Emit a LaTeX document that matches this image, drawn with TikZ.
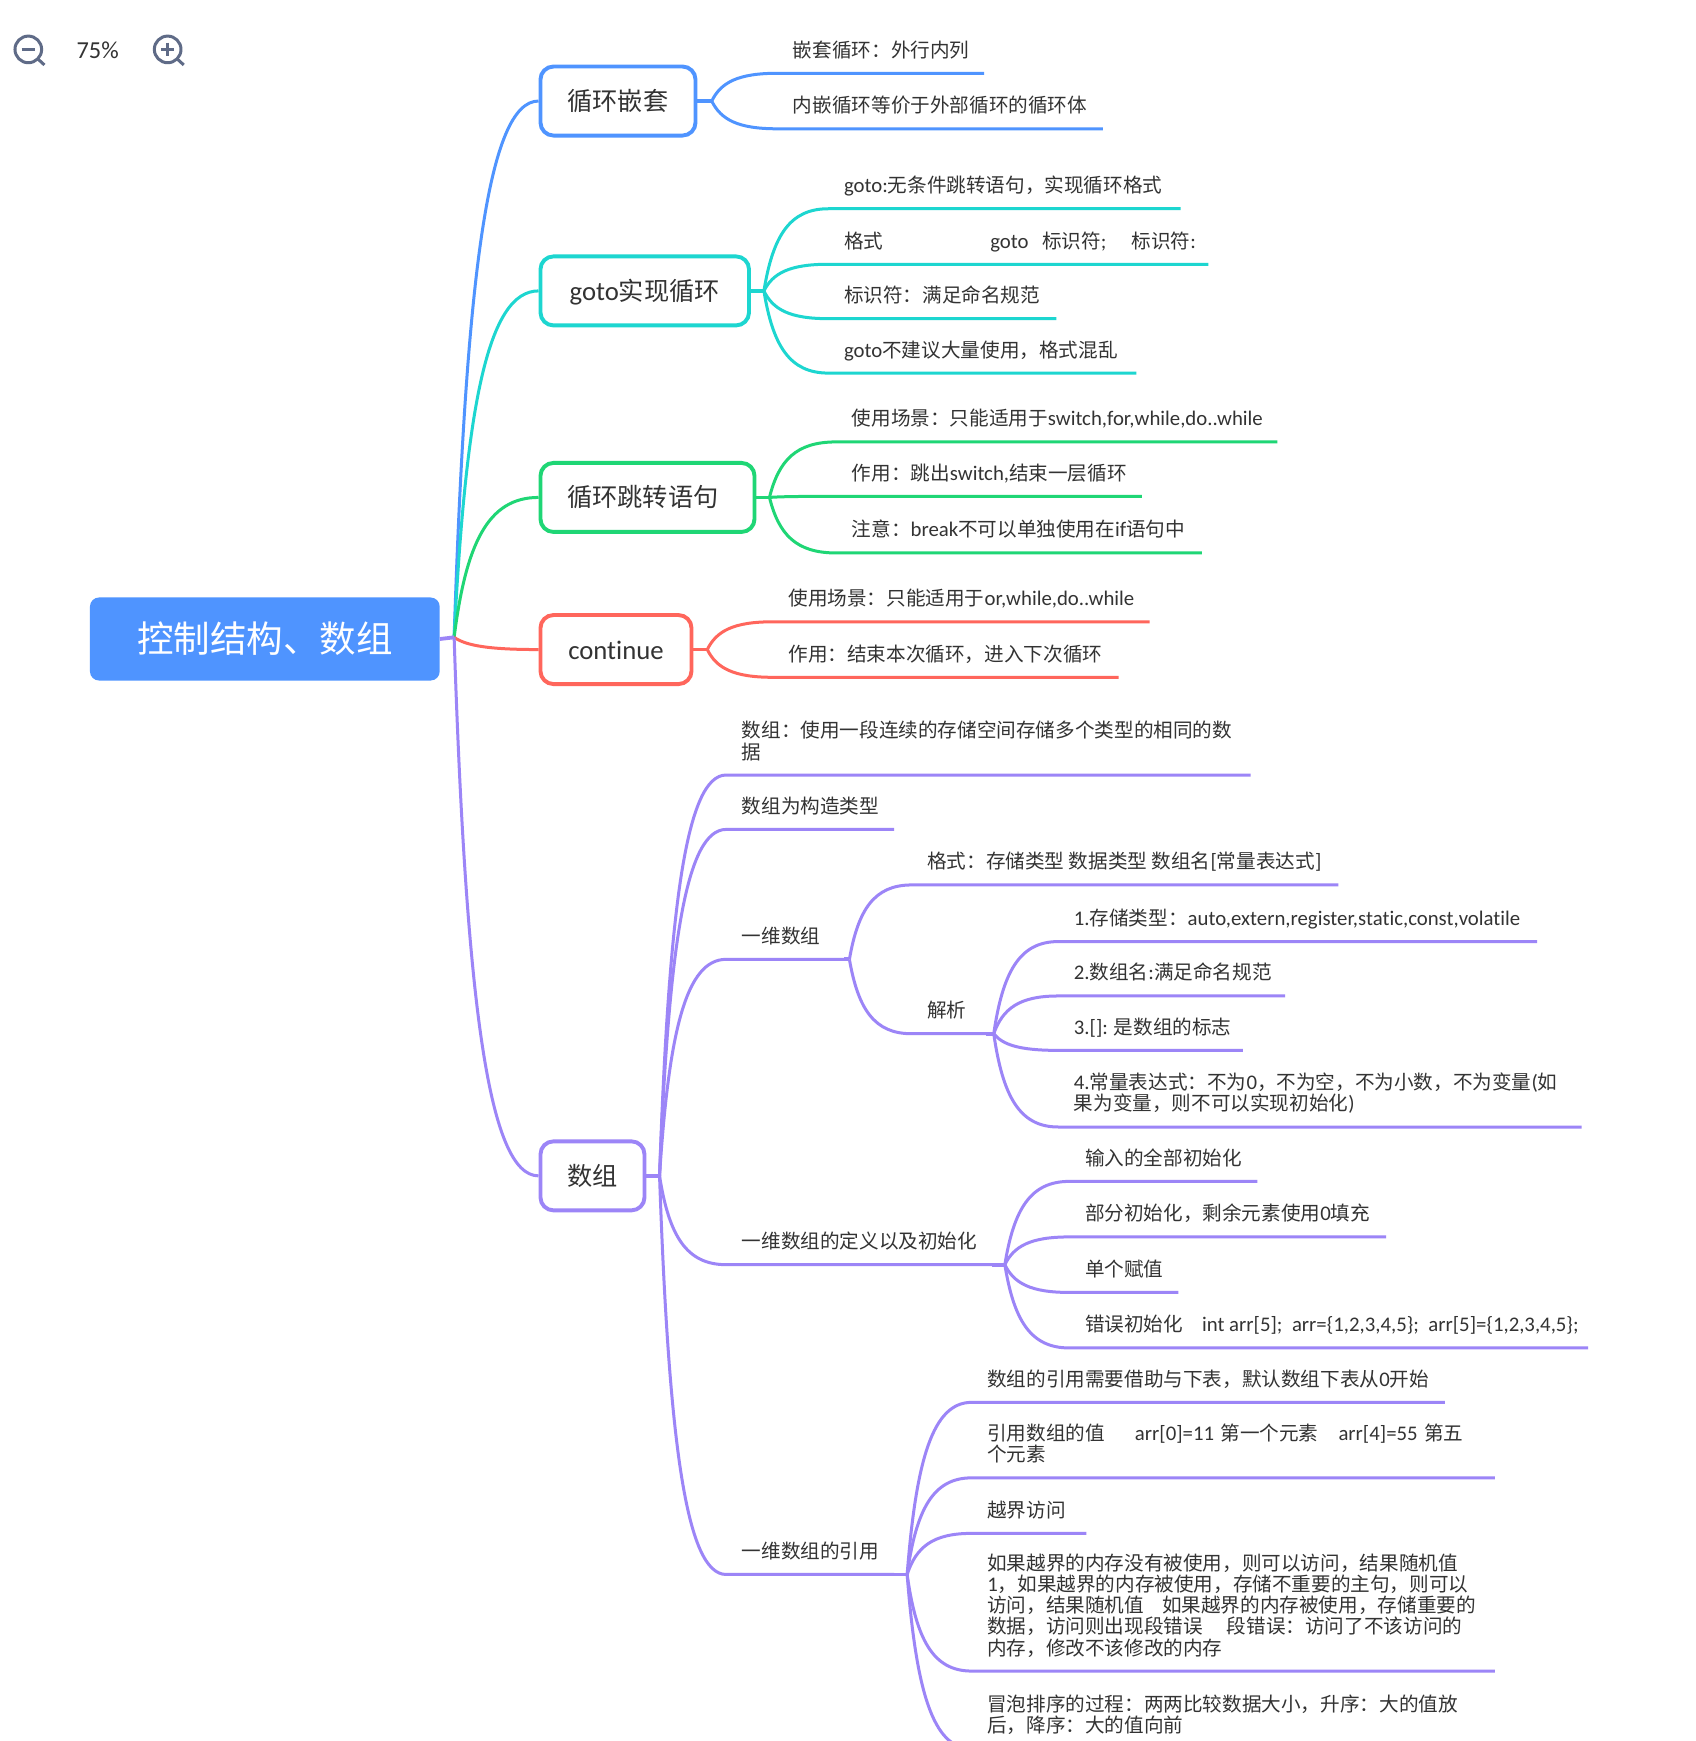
\documentclass[tikz,border=0pt]{standalone}
\usepackage{fontspec}
\setmainfont{Noto Sans CJK SC}
\newfontfamily\latinf[Scale=1.06,Ligatures=NoCommon]{Carlito}
\newcommand{\lat}[1]{{\latinf #1}}
\usetikzlibrary{calc}
\definecolor{cblue}{HTML}{4F94FF}
\definecolor{cteal}{HTML}{1DD6D0}
\definecolor{cgreen}{HTML}{1FD675}
\definecolor{cred}{HTML}{FF665C}
\definecolor{cpurple}{HTML}{9C85F7}
\definecolor{ctext}{HTML}{333333}
\definecolor{cicon}{HTML}{5F6B87}
\colorlet{cur}{cblue}
\tikzset{
  rootbox/.style={rectangle,rounded corners=9pt,fill=cblue,text=white,inner sep=0pt,minimum width=349.6pt,minimum height=83pt,text height=28pt,text depth=1pt,font=\fontsize{36.5}{40}\selectfont},
  topicbox/.style={rectangle,rounded corners=13pt,draw=cur,line width=3.9pt,fill=white,text=ctext,inner sep=0pt,minimum height=69pt,text height=22pt,text depth=3pt,font=\fontsize{25.2}{28}\selectfont,anchor=west},
  leafnode/.style={inner sep=0pt,anchor=south west,text=ctext,font=\fontsize{19.6}{21.1}\selectfont},
  conn/.style={draw=cur,line width=3pt},
  stubline/.style={draw=cur,line width=3.8pt},
  iconline/.style={draw=cicon,line width=3pt},
  icontext/.style={inner sep=0pt,text=ctext,font=\fontsize{23}{25}\selectfont}
}
\newcommand{\curveto}[3]{%
  \draw[conn] let \p1=(#1),\p2=(#2) in (\p1) .. controls (\x1+0.14*\x2-0.14*\x1,\y2+0.33*\y1-0.33*\y2) and (\x1+0.4*\x2-0.4*\x1,\y2) .. (\p2)#3;}
\newcommand{\leaf}[7]{%
  \pgfmathsetlengthmacro{\lw}{(#4-#3)*1.11}%
  \pgfmathsetlengthmacro{\lo}{(#6-#3)*1.11}%
  \node[leafnode] (#1) at (#3,#5) {\makebox[\lw][l]{\hspace*{\lo}\vbox{\lineskiplimit=-60pt\baselineskip=21.1pt\let\\\cr\halign{##\hfil\cr #7\crcr}}}\rule[-15.8pt]{0pt}{0pt}};
  \curveto{#2}{#1.south west}{ -- (#1.south east)}}
\begin{document}
\begin{tikzpicture}[x=1.11pt,y=-1.11pt]
\useasboundingbox (0,0) rectangle (1527,1568);
\clip (0,0) rectangle (1527,1568);
\fill[white] (0,0) rectangle (1527,1568);
% toolbar
\draw[iconline] (25.5,44.5) circle (12);
\draw[iconline] (19.5,44.5) -- (31.5,44.5);
\draw[iconline] (34,53) -- (40,58.5);
\node[icontext] (zoomtext) at (88,45) {\lat{75\%}};
\draw[iconline] (151,44.5) circle (12);
\draw[iconline] (145,44.5) -- (157,44.5);
\draw[iconline] (151,38.5) -- (151,50.5);
\draw[iconline] (159.5,53) -- (165.5,58.5);
% root
\node[rootbox] (root) at (238.5,575.5) {控制结构、数组};
\coordinate (rf) at (409,574);
% topic nodes
\colorlet{cur}{cblue}
\node[topicbox,minimum width=155pt] (t1) at (485,91) {循环嵌套};
\curveto{rf}{t1.west}{}
\coordinate (f1) at (641,91);
\draw[stubline] (t1.east) -- (f1);
\leaf{a1}{f1}{700}{886}{66}{714}{嵌套循环：外行内列}
\leaf{a2}{f1}{700}{993}{116}{714}{内嵌循环等价于外部循环的循环体}
\colorlet{cur}{cteal}
\node[topicbox,minimum width=208.5pt] (t2) at (485,262) {\lat{goto}实现循环};
\curveto{rf}{t2.west}{}
\coordinate (f2) at (688,262);
\draw[stubline] (t2.east) -- (f2);
\leaf{b1}{f2}{746}{1063}{188}{760}{\lat{goto:}无条件跳转语句，实现循环格式}
\leaf{b2}{f2}{746}{1088}{238}{760}{格式\hspace{107pt}\lat{goto}\hspace{13.5pt}标识符\lat{;}\hspace{25pt}标识符\lat{:}}
\leaf{b3}{f2}{746}{951}{287}{760}{标识符：满足命名规范}
\leaf{b4}{f2}{746}{1023}{336}{760}{\lat{goto}不建议大量使用，格式混乱}
\colorlet{cur}{cgreen}
\node[topicbox,minimum width=214pt] (t3) at (485,448) {\hspace*{-9pt}循环跳转语句};
\curveto{rf}{t3.west}{}
\coordinate (f3) at (693,448);
\draw[stubline] (t3.east) -- (f3);
\leaf{c1}{f3}{753}{1150}{398}{767}{使用场景：只能适用于\lat{switch,for,while,do..while}}
\leaf{c2}{f3}{753}{1028}{447}{767}{作用：跳出\lat{switch,}结束一层循环}
\leaf{c3}{f3}{753}{1082}{498}{767}{注意：\lat{break}不可以单独使用在\lat{if}语句中}
\colorlet{cur}{cred}
\node[topicbox,minimum width=151pt] (t4) at (485,585) {\lat{continue}};
\curveto{rf}{t4.west}{}
\coordinate (f4) at (637,585);
\draw[stubline] (t4.east) -- (f4);
\leaf{d1}{f4}{696}{1035}{560}{710}{使用场景：只能适用于\lat{or,while,do..while}}
\leaf{d2}{f4}{696}{1007}{610}{710}{作用：结束本次循环，进入下次循环}
\colorlet{cur}{cpurple}
\node[topicbox,minimum width=104pt] (t5) at (485,1059) {数组};
\curveto{rf}{t5.west}{}
\draw[stubline] (root.east) -- (rf);
\coordinate (f5) at (594,1059);
\draw[stubline] (t5.east) -- (f5);
\leaf{e1}{f5}{654}{1126}{698}{668}{数组：使用一段连续的存储空间存储多个类型的相同的数\\据}
\leaf{e2}{f5}{654}{805}{747}{668}{数组为构造类型}
\leaf{e3}{f5}{654}{760}{864}{668}{一维数组}
\coordinate (f6) at (765,864);
\draw[stubline] (e3.south east) -- (f6);
\leaf{g1}{f6}{821}{1205}{797}{835}{格式：存储类型 数据类型 数组名\lat{[}常量表达式\lat{]}}
\leaf{g2}{f6}{821}{888}{931}{835}{解析}
\coordinate (f7) at (895,931);
\draw[stubline] (g2.south east) -- (f7);
\leaf{h1}{f7}{953}{1384}{848}{967}{\lat{1.}存储类型：\lat{auto,extern,register,static,const,volatile}}
\leaf{h2}{f7}{953}{1157}{897}{967}{\lat{2.}数组名\lat{:}满足命名规范}
\leaf{h3}{f7}{953}{1119}{946}{967}{\lat{3.[]:} 是数组的标志}
\leaf{h4}{f7}{953}{1424}{1015}{967}{\lat{4.}常量表达式：不为\lat{0}，不为空，不为小数，不为变量\lat{(}如\\果为变量，则不可以实现初始化\lat{)}}
\leaf{e4}{f5}{654}{893}{1139}{668}{一维数组的定义以及初始化}
\coordinate (f8) at (905,1139);
\draw[stubline] (e4.south east) -- (f8);
\leaf{i1}{f8}{963}{1132}{1064}{977}{输入的全部初始化}
\leaf{i2}{f8}{963}{1248}{1114}{977}{部分初始化，剩余元素使用\lat{0}填充}
\leaf{i3}{f8}{963}{1061}{1164}{977}{单个赋值}
\leaf{i4}{f8}{963}{1430}{1214}{977}{错误初始化\hspace{19pt}\lat{int arr[5];\hspace{9.5pt}arr=\{1,2,3,4,5\};\hspace{9.5pt}arr[5]=\{1,2,3,4,5\};}}
\leaf{e5}{f5}{654}{805}{1418}{668}{一维数组的引用}
\coordinate (f9) at (817,1418);
\draw[stubline] (e5.south east) -- (f9);
\leaf{j1}{f9}{875}{1301}{1263}{889}{数组的引用需要借助与下表，默认数组下表从\lat{0}开始}
\leaf{j2}{f9}{875}{1346}{1331}{889}{引用数组的值\hspace{30pt}\lat{arr[0]=11} \hspace{2pt}第一个元素\hspace{20pt}\lat{arr[4]=55} \hspace{2pt}第五\\个元素}
\leaf{j3}{f9}{875}{978}{1381}{889}{越界访问}
\leaf{j4}{f9}{875}{1346}{1505}{889}{如果越界的内存没有被使用，则可以访问，结果随机值\\\lat{1}，如果越界的内存被使用，存储不重要的主句，则可以\\访问，结果随机值\hspace{18pt}如果越界的内存被使用，存储重要的\\数据，访问则出现段错误\hspace{24pt}段错误：访问了不该访问的\\内存，修改不该修改的内存}
\leaf{j5}{f9}{875}{1346}{1575}{889}{冒泡排序的过程：两两比较数据大小，升序：大的值放\\后，降序：大的值向前}
\end{tikzpicture}
\end{document}
